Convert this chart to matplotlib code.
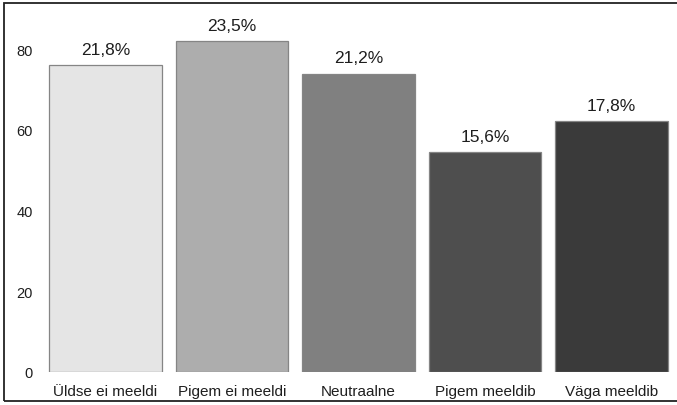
import matplotlib
matplotlib.use("Agg")
import matplotlib.pyplot as plt
from matplotlib.patches import Rectangle

plt.rcParams['font.family'] = ['Liberation Sans', 'DejaVu Sans']

categories = ["Üldse ei meeldi", "Pigem ei meeldi", "Neutraalne", "Pigem meeldib", "Väga meeldib"]
percent = [21.8, 23.5, 21.2, 15.6, 17.8]
respondents = 349
counts = [p * respondents / 100 for p in percent]
labels = ["21,8%", "23,5%", "21,2%", "15,6%", "17,8%"]
yticks = [0, 20, 40, 60, 80]
colors = ["#e5e5e5", "#adadad", "#808080", "#4e4e4e", "#3a3a3a"]

W, H = 677, 406
fig = plt.figure(figsize=(W / 100, H / 100), dpi=100)
ax = fig.add_axes([42.25 / W, (H - 372.7) / H, 632.5 / W, 362.7 / H])

x = range(len(categories))
bars = ax.bar(x, counts, width=0.893, color=colors, edgecolor="#858585", linewidth=0.9)

for rect, lab in zip(bars, labels):
    ax.annotate(lab, (rect.get_x() + rect.get_width() / 2, rect.get_height()),
                xytext=(0, 6), textcoords="offset points",
                ha="center", va="bottom", fontsize=12.5, color="#1e1e1e")

ax.set_xlim(-0.5, len(categories) - 0.5)
ax.set_ylim(0, 90)
ax.set_yticks(yticks)
ax.set_yticklabels([str(v) for v in yticks])
ax.set_xticks(list(x))
ax.set_xticklabels(categories)
ax.tick_params(axis="y", length=0, pad=7, labelsize=10.5, labelcolor="#1e1e1e")
ax.tick_params(axis="x", length=0, pad=8.5, labelsize=11, labelcolor="#1e1e1e")
for s in ax.spines.values():
    s.set_visible(False)

# outer frame around the figure
fig.patches.append(Rectangle((4 / W, 4 / H), (W + 10) / W, (H - 8) / H,
                             transform=fig.transFigure, fill=False,
                             edgecolor="#222222", linewidth=1.3))

fig.savefig("out.png", dpi=100)
